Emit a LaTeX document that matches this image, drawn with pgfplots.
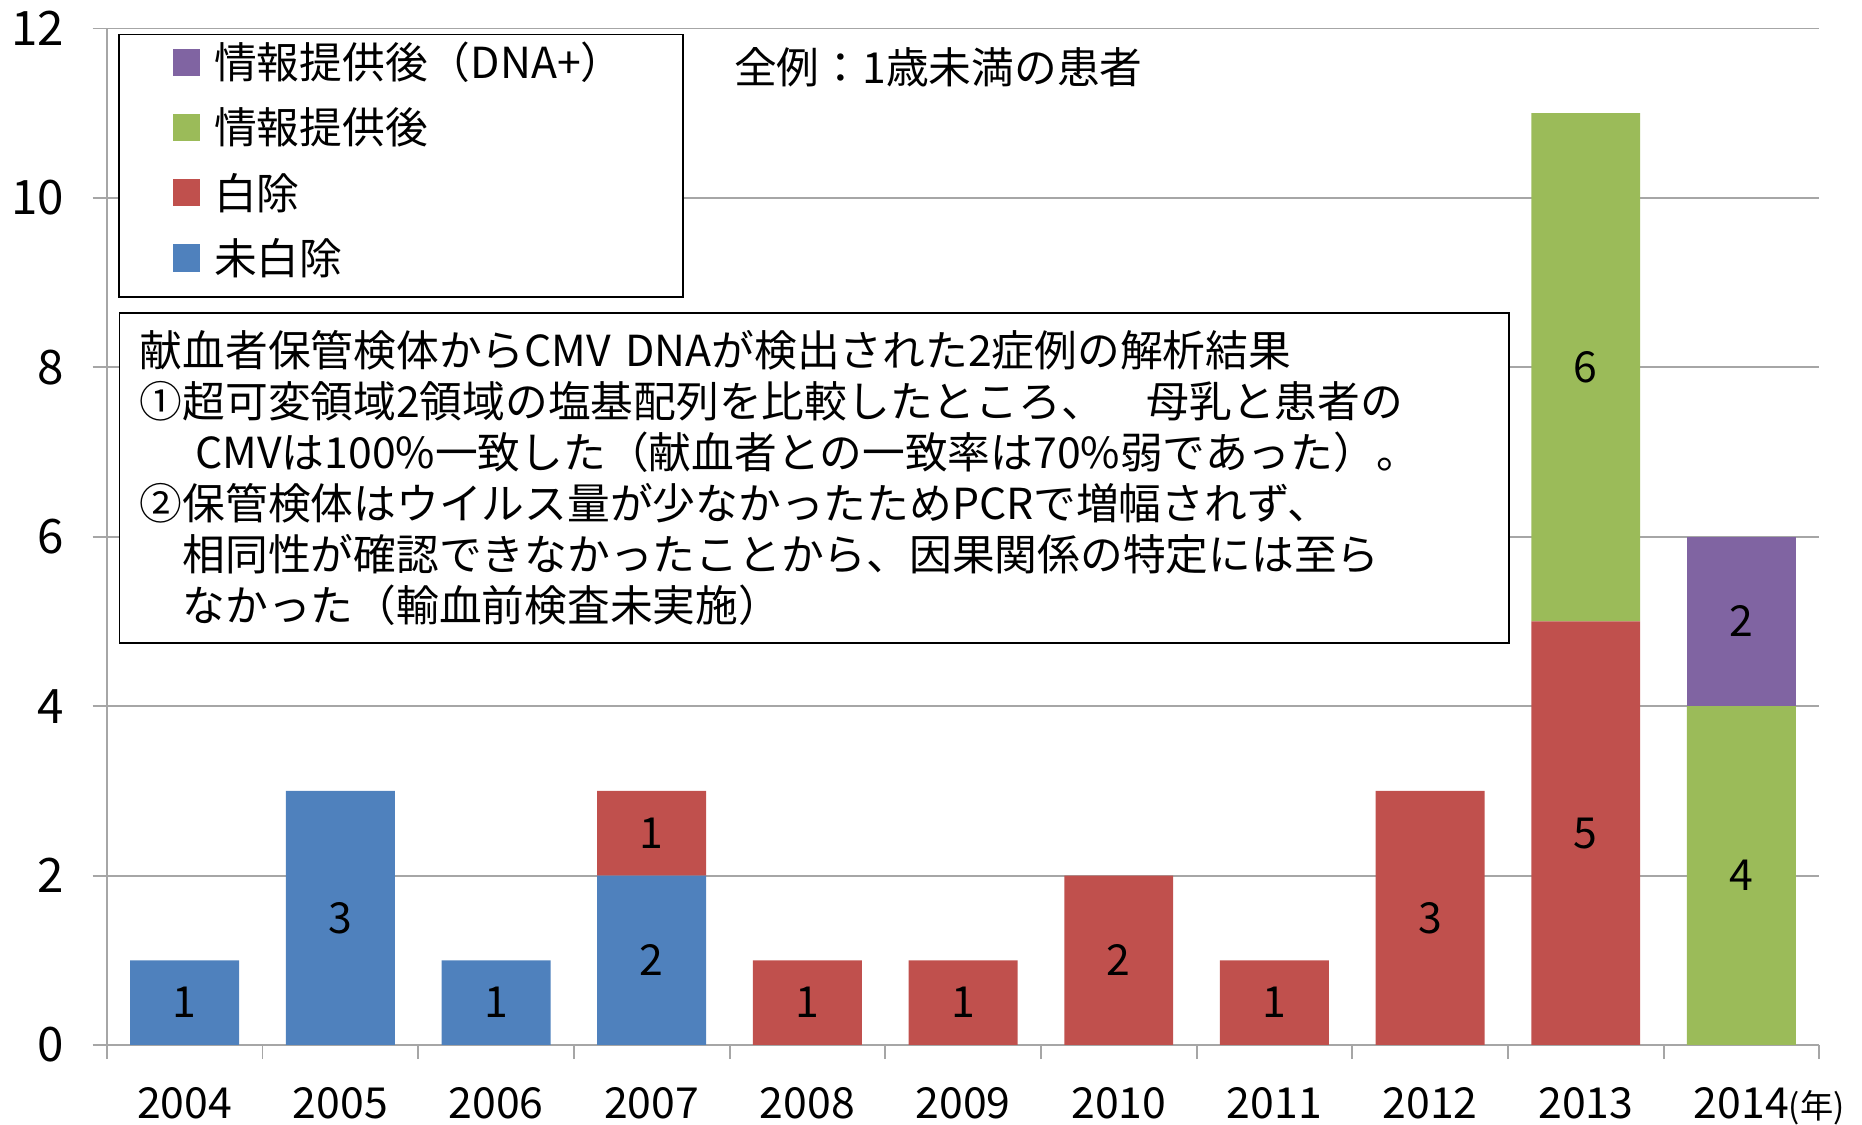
\documentclass[border=0pt]{standalone}
\usepackage{pgfplots}
\pgfplotsset{compat=1.18}
\usepackage{fontspec}
\setmainfont{Noto Sans CJK JP}
\definecolor{cblue}{HTML}{4F81BD}
\definecolor{cred}{HTML}{C0504D}
\definecolor{cgreen}{HTML}{9BBB59}
\definecolor{cpurple}{HTML}{8064A2}
\definecolor{gridgray}{HTML}{A6A6A6}
\newcommand{\txt}{\fontsize{18pt}{18pt}\selectfont}

\pgfplotsset{
  base/.style={
    scale only axis, width=721pt, height=428pt,
    xmin=-0.5, xmax=10.5, ymin=0, ymax=12,
  }
}

\begin{document}
\begin{tikzpicture}
\begin{axis}[base,
  ybar stacked, bar width=0.7,
  axis lines*=left,
  axis line style={gridgray, line width=0.8pt},
  xtick={0,...,10},
  xticklabels={2004,2005,2006,2007,2008,2009,2010,2011,2012,2013,{2014\rlap{\fontsize{14pt}{14pt}\selectfont(年)}}},
  major x tick style={draw=none},
  minor xtick={-0.5,0.5,...,10.5},
  ytick={0,2,...,12},
  tick align=outside,
  major tick length=6pt, minor tick length=6pt,
  tick style={gridgray, line width=0.8pt},
  ymajorgrids, grid style={gridgray, line width=0.8pt},
  xticklabel style={font=\txt, yshift=-8.5pt},
  yticklabel style={font=\fontsize{20pt}{20pt}\selectfont, xshift=-8.5pt},
  /pgf/number format/assume math mode=true,
  legend style={draw=none, fill=none, at={(axis description cs:0,1)}, anchor=north west,
    xshift=27.5pt, yshift=-0.25pt, inner sep=0pt, row sep=0pt, column sep=6pt,
    font=\txt, nodes={inner sep=0pt, minimum height=27.5pt, anchor=west}},
  legend image code/.code={\fill[#1] (0pt,-5.75pt) rectangle (11.5pt,5.75pt);},
  reverse legend,
]
\coordinate (O) at (rel axis cs:0,0);
% 未白除
\addplot[fill=cblue, draw=none] coordinates {(0,1) (1,3) (2,1) (3,2) (4,0) (5,0) (6,0) (7,0) (8,0) (9,0) (10,0)};
\addlegendentry{未白除}
% 白除
\addplot[fill=cred, draw=none] coordinates {(0,0) (1,0) (2,0) (3,1) (4,1) (5,1) (6,2) (7,1) (8,3) (9,5) (10,0)};
\addlegendentry{白除}
% 情報提供後
\addplot[fill=cgreen, draw=none] coordinates {(0,0) (1,0) (2,0) (3,0) (4,0) (5,0) (6,0) (7,0) (8,0) (9,6) (10,4)};
\addlegendentry{情報提供後}
% 情報提供後（DNA+）
\addplot[fill=cpurple, draw=none] coordinates {(0,0) (1,0) (2,0) (3,0) (4,0) (5,0) (6,0) (7,0) (8,0) (9,0) (10,2)};
\addlegendentry{情報提供後（DNA+）}

\draw[black, line width=0.6pt, fill=white] (axis cs:-0.423,11.93) rectangle (axis cs:3.2,8.83);
\node[anchor=west, inner sep=0pt, font=\txt] at (axis description cs:0.366,0.9614) {全例：1歳未満の患者};
\node[draw=black, line width=0.6pt, fill=white, anchor=north west, inner xsep=8.5pt, inner ysep=0pt,
  text width=568pt, minimum height=139pt, align=left, font=\fontsize{18pt}{21.5pt}\selectfont]
  at (axis cs:-0.423,8.65) {献血者保管検体からCMV DNAが検出された2症例の解析結果\\
①超可変領域2領域の塩基配列を比較したところ、　母乳と患者の\\
\hspace*{1.3em}CMVは100\%一致した（献血者との一致率は70\%弱であった）。\\
②保管検体はウイルス量が少なかったためPCRで増幅されず、\\
\hspace*{1em}相同性が確認できなかったことから、因果関係の特定には至ら\\
\hspace*{1em}なかった（輸血前検査未実施）};
\end{axis}
\begin{axis}[base, hide axis,
  every node near coord/.append style={anchor=center, font=\txt, inner sep=0pt, text=black},
]
\addplot[draw=none, mark=none, nodes near coords, point meta=explicit symbolic]
  coordinates {(0,0.5)[1] (1,1.5)[3] (2,0.5)[1] (3,1)[2] (3,2.5)[1] (4,0.5)[1] (5,0.5)[1]
    (6,1)[2] (7,0.5)[1] (8,1.5)[3] (9,2.5)[5] (9,8)[6] (10,2)[4] (10,5)[2]};
\end{axis}
\pgfresetboundingbox
\path (O) ++(-45pt,-33.5pt) rectangle ++(784pt,473.5pt);
\end{tikzpicture}
\end{document}
